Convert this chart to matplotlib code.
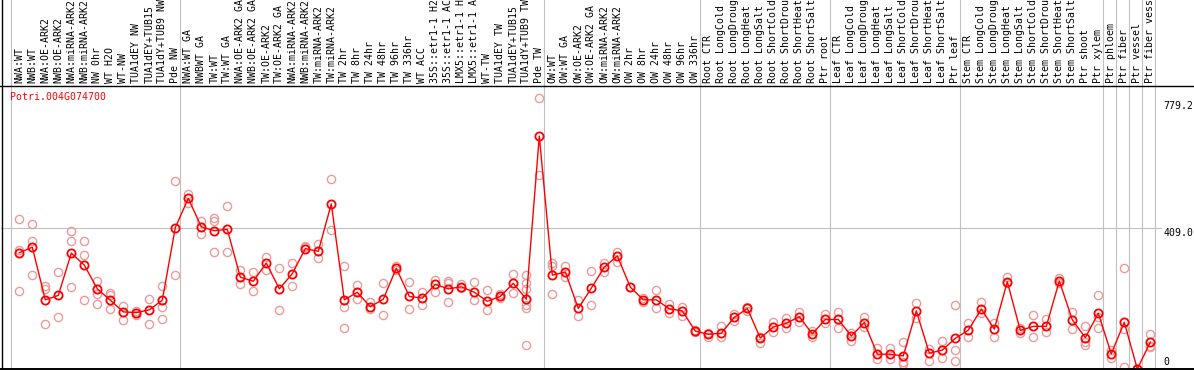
import matplotlib
matplotlib.use('Agg')
import matplotlib.pyplot as plt
from matplotlib import transforms

# ---------------- data ----------------
gene_name = "Potri.004G074700"

sample_labels = [
    "NWA:WT", "NWB:WT", "NWA:OE-ARK2", "NWB:OE-ARK2", "NWA:miRNA-ARK2", "NWB:miRNA-ARK2",
    "NW 0hr", "WT H2O", "WT-NW", "TUA1dEY NW", "TUA1dEY+TUB15", "TUA1dY+TUB9 NW", "Pde NW",
    "NWA:WT GA", "NWBWT GA", "TW:WT", "TW:WT GA", "NWA:OE-ARK2 GA", "NWB:OE-ARK2 GA",
    "TW:OE-ARK2", "TW:OE-ARK2 GA", "NWA:miRNA-ARK2", "NWB:miRNA-ARK2", "TW:miRNA-ARK2",
    "TW:miRNA-ARK2", "TW 2hr", "TW 8hr", "TW 24hr", "TW 48hr", "TW 96hr", "TW 336hr",
    "WT ACC", "35S::etr1-1 H2", "35S::etr1-1 AC", "LMX5::etr1-1 H", "LMX5::etr1-1 A",
    "WT-TW", "TUA1dEY TW", "TUA1dEY+TUB15", "TUA1dY+TUB9 TW", "Pde TW",
    "OW:WT", "OW:WT GA", "OW:OE-ARK2", "OW:OE-ARK2 GA", "OW:miRNA-ARK2", "OW:miRNA-ARK2",
    "OW 2hr", "OW 8hr", "OW 24hr", "OW 48hr", "OW 96hr", "OW 336hr",
    "Root CTR", "Root LongCold", "Root LongDroug", "Root LongHeat", "Root LongSalt",
    "Root ShortCold", "Root ShortDrou", "Root ShortHeat", "Root ShortSalt", "Ptr root",
    "Leaf CTR", "Leaf LongCold", "Leaf LongDroug", "Leaf LongHeat", "Leaf LongSalt",
    "Leaf ShortCold", "Leaf ShortDrou", "Leaf ShortHeat", "Leaf ShortSalt", "Ptr leaf",
    "Stem CTR", "Stem LongCold", "Stem LongDroug", "Stem LongHeat", "Stem LongSalt",
    "Stem ShortCold", "Stem ShortDrou", "Stem ShortHeat", "Stem ShortSalt", "Ptr shoot",
    "Ptr xylem", "Ptr phloem", "Ptr fiber", "Ptr vessel", "Ptr fiber vess",
]

mean_values = [
    338, 354, 201, 214, 337, 302, 233, 200, 166, 164, 172, 200, 411,
    496, 413, 402, 406, 267, 255, 308, 233, 277, 350, 342, 480, 201, 223, 181, 203,
    293, 211, 206, 246, 233, 239, 223, 197, 211, 249, 203, 677,
    273, 282, 176, 235, 296, 329, 238, 201, 201, 175, 169, 110,
    101, 104, 150, 176, 90, 122, 133, 152, 102, 144,
    144, 96, 135, 43, 43, 38, 169, 46, 55, 89,
    113, 174, 116, 254, 112, 124, 124, 256, 143, 91,
    162, 44, 136, 0, 78,
]

replicate_values = [
    [435, 346, 227], [421, 372, 273], [242, 232, 130], [282, 150], [401, 372, 238],
    [371, 331, 201], [256, 217, 189], [220, 214, 174], [183, 142], [170, 156],
    [203, 130], [241, 181, 145], [546, 273],
    [509, 483], [431, 392], [440, 431, 339], [474, 339], [288, 246], [282, 227],
    [327, 288], [294, 172], [308, 241], [358, 356], [363, 322], [552, 404],
    [300, 181, 119], [244, 203], [195, 174], [249, 156], [300, 288], [252, 174],
    [223, 185], [259, 223], [257, 251, 195], [246, 235], [252, 201], [230, 172],
    [218, 205], [276, 220], [273, 249, 232, 186, 176, 69], [788, 563],
    [307, 298, 218], [300, 267], [201, 154], [284, 186], [307, 283], [341, 312],
    [238], [206, 196], [230, 176], [189, 162], [181, 155], [113, 107],
    [104, 94], [125, 92], [160, 140], [181, 170], [94, 75], [138, 107],
    [147, 119], [165, 138], [110, 94], [159, 133],
    [165, 119], [106, 82], [152, 123], [60, 28], [60, 28], [78, 21, 15],
    [191, 147], [57, 24], [80, 31], [186, 55, 24],
    [133, 94], [195, 162], [133, 92], [267, 250], [118, 106], [157, 94],
    [144, 109], [264, 250], [165, 116], [125, 79, 70],
    [214, 152, 118], [55, 31], [293, 116, 7], [0, 0], [102, 68, 63],
]

# group separators: drawn after these sample positions (0 = before first)
separator_after = [0, 13, 41, 53, 63, 73, 84, 85, 86, 87, 88]

y_tick_values = [779.2, 409.0, 0]
y_tick_labels = ["779.2", "409.0", "0"]
grid_value = 409.0

# ---------------- figure ----------------
W, H = 1194, 370
fig = plt.figure(figsize=(W / 100, H / 100), dpi=100)
ax_l, ax_r, ax_t, ax_b = 1, 1194, 86, 369
ax = fig.add_axes([ax_l / W, (H - ax_b) / H, (ax_r - ax_l) / W, (ax_b - ax_t) / H])
for s in ax.spines.values():
    s.set_visible(False)
ax.set_xticks([])
ax.set_yticks([])

x0_px, step_px = 19.3, 13.0
ax.set_xlim((ax_l - x0_px) / step_px + 1, (ax_r - x0_px) / step_px + 1)
px_per_unit = (369 - 228.3) / 409.0
ax.set_ylim(0, (ax_b - ax_t) / px_per_unit)

mono = "DejaVu Sans Mono"
fs = 7.1
xs = list(range(1, len(mean_values) + 1))

# separators
axes_h = ax_b - ax_t
for s in separator_after:
    xv = s + 5.0 / step_px
    ax.plot([xv, xv], [0, ax_b / axes_h], transform=ax.get_xaxis_transform(),
            color="#c0c0c0", lw=0.8, clip_on=False, zorder=0)

# horizontal gridline
x_end = (1161 - x0_px) / step_px + 1
ax.plot([ax.get_xlim()[0], x_end], [grid_value, grid_value], color="#c0c0c0", lw=0.8, zorder=0)

# replicates
rx, ry = [], []
for x, reps in zip(xs, replicate_values):
    for r in reps:
        rx.append(x)
        ry.append(r)
ax.plot(rx, ry, linestyle="none", marker="o", markersize=5.9, markerfacecolor="none",
        markeredgecolor="#ee9a9a", markeredgewidth=1.0, zorder=2)

# mean line + markers
ax.plot(xs, mean_values, color="#ff0000", lw=1.0, zorder=3)
ax.plot(xs, mean_values, linestyle="none", marker="o", markersize=5.9, markerfacecolor="none",
        markeredgecolor="#ff0000", markeredgewidth=1.3, zorder=4)

# sample labels (rotated, above the plot)
lab_tr = transforms.offset_copy(ax.get_xaxis_transform(), fig=fig, x=0, y=2.7, units="dots")
for x, lab in zip(xs, sample_labels):
    ax.text(x, 1.0, lab, rotation=90, ha="center", va="bottom", family=mono, fontsize=fs,
            color="black", transform=lab_tr, clip_on=False)

# y tick labels on the right
x_lab = (1163.3 - x0_px) / step_px + 1
offsets = [-4.8, -4.4, 7.3]
for v, t, off in zip(y_tick_values, y_tick_labels, offsets):
    tr = transforms.offset_copy(ax.transData, fig=fig, x=0, y=off, units="dots")
    ax.text(x_lab, v, t, ha="left", va="center", family=mono, fontsize=fs, color="black",
            transform=tr, clip_on=False)

# title
fig.text(9.7 / W, 1 - 97 / H, gene_name, ha="left", va="center", family=mono,
         fontsize=fs, color="#ff0000")

# borders
def fig_line(x1, y1, x2, y2, lw=1.0):
    fig.add_artist(plt.Line2D([x1 / W, x2 / W], [1 - y1 / H, 1 - y2 / H],
                              transform=fig.transFigure, color="black", lw=lw))

fig_line(1.5, 0, 1.5, 370)
fig_line(0, 86, 1194, 86)
fig_line(0, 369, 1194, 369, lw=1.4)

fig.savefig("out.png", dpi=100)
